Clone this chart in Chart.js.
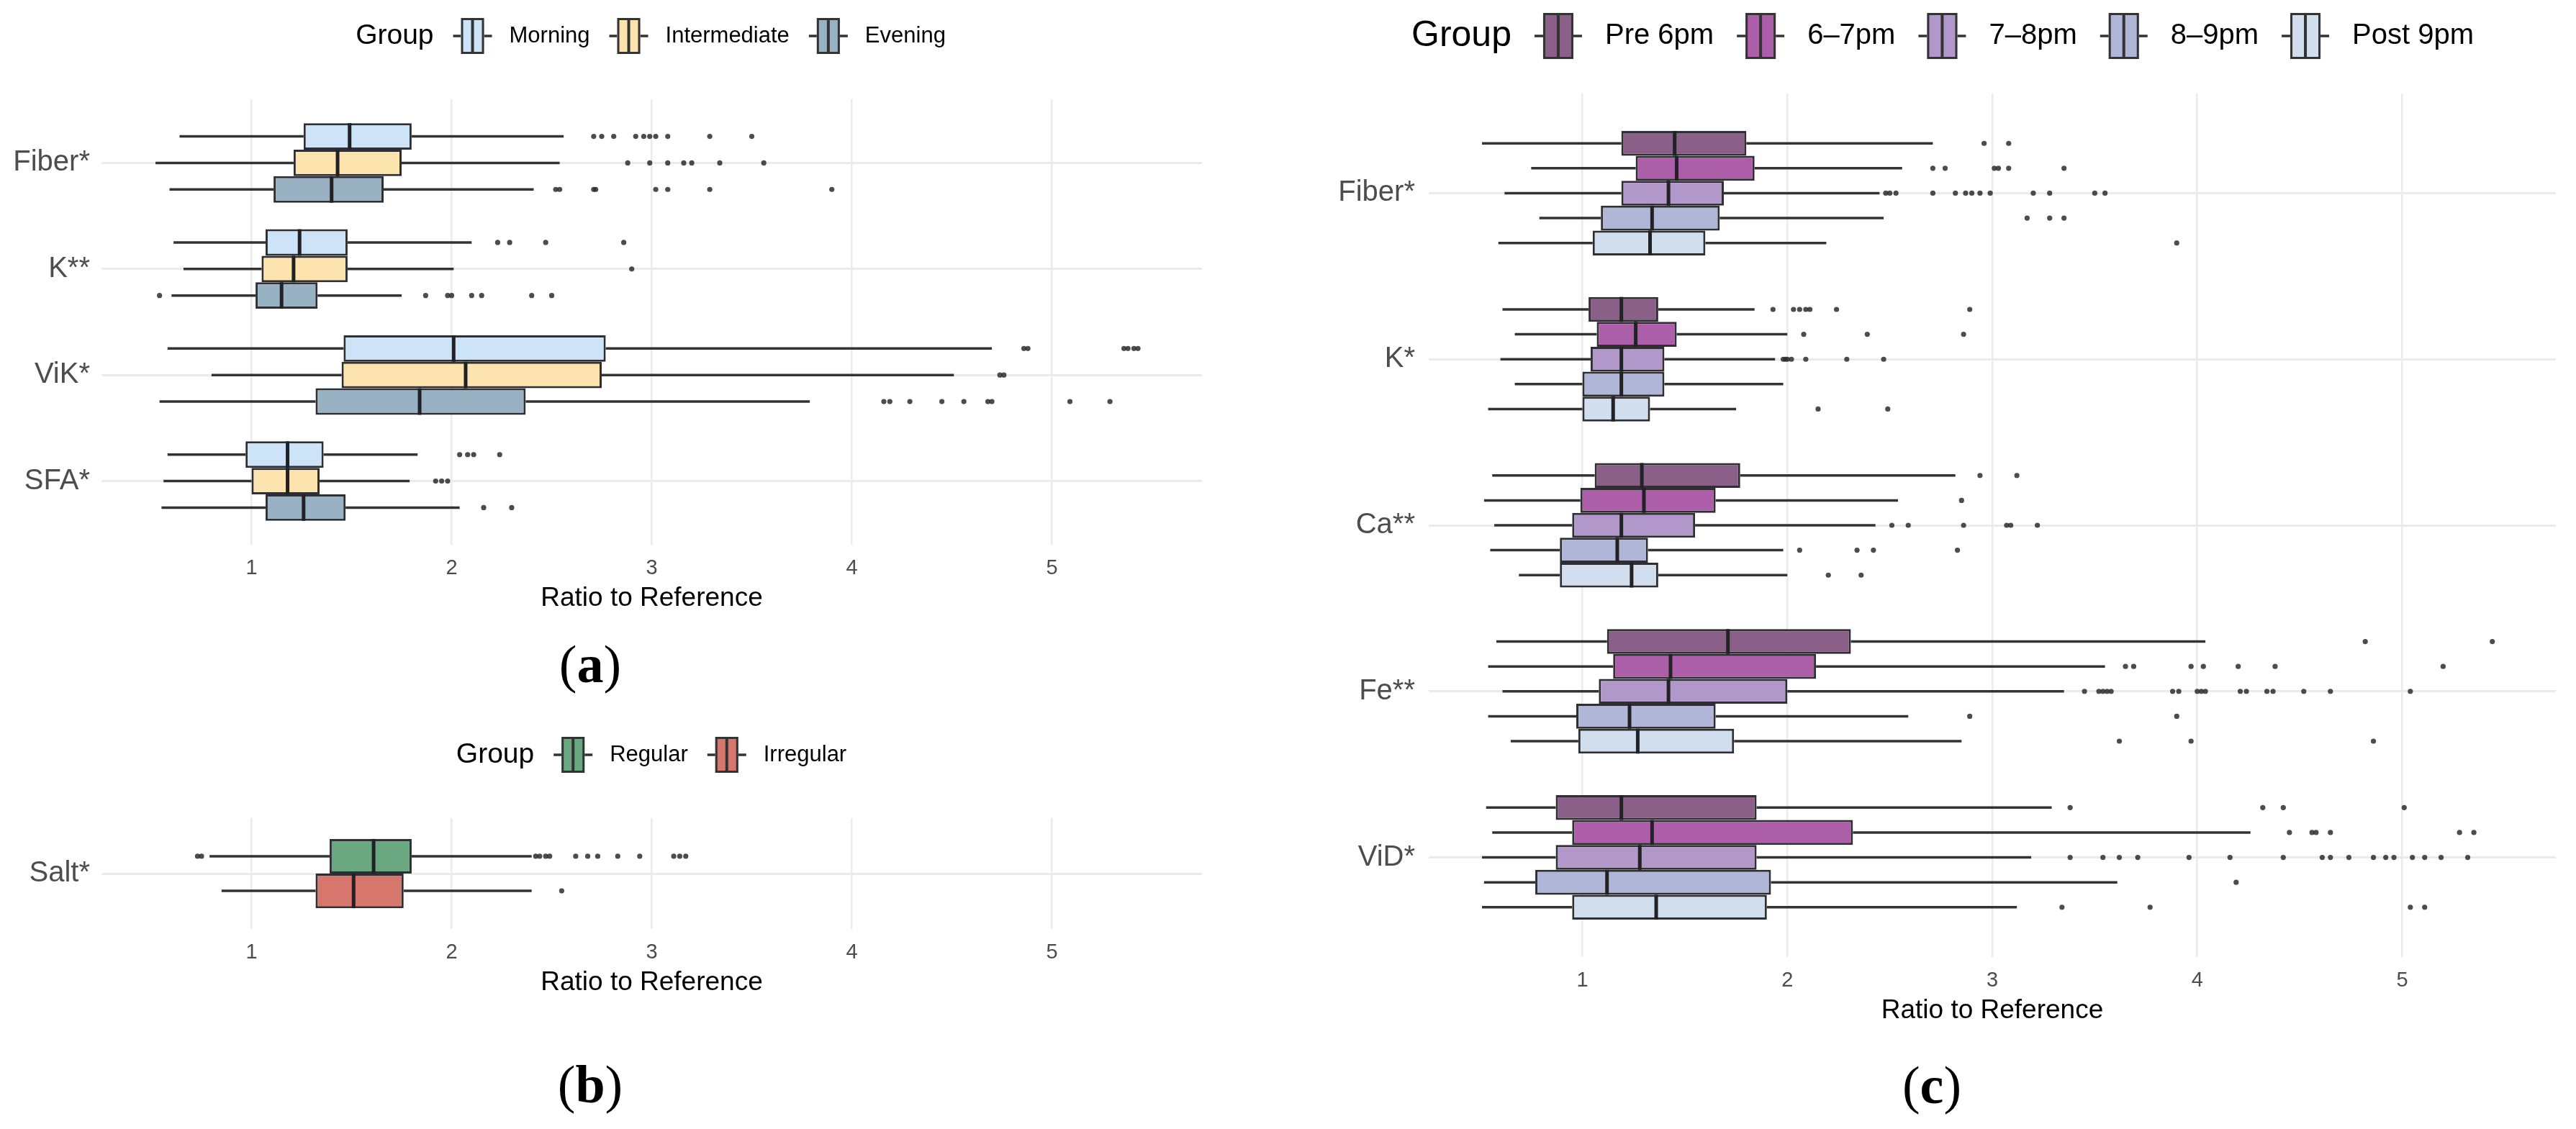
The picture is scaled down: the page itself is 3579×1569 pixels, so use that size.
<!DOCTYPE html>
<html><head><meta charset="utf-8">
<script src="https://cdn.jsdelivr.net/npm/chart.js@4.4.1/dist/chart.umd.min.js"></script>
<style>
html,body{margin:0;padding:0;background:#fff;width:3579px;height:1569px;overflow:hidden;position:relative}
canvas{position:absolute}
.lab{position:absolute;font-family:"Liberation Serif","Times New Roman",serif;font-size:74px;color:#000;transform:translate(-50%,-50%);white-space:nowrap;line-height:1}
</style></head><body>
<canvas id="ca" width="1700" height="960" style="left:0;top:0;width:1700px;height:960px"></canvas>
<canvas id="cb" width="1700" height="500" style="left:0;top:960px;width:1700px;height:500px"></canvas>
<canvas id="cc" width="1879" height="1460" style="left:1700px;top:0;width:1879px;height:1460px"></canvas>
<div class="lab" style="left:820px;top:923px">(<b>a</b>)</div>
<div class="lab" style="left:820px;top:1507px">(<b>b</b>)</div>
<div class="lab" style="left:2684px;top:1508px">(<b>c</b>)</div>
<script>
// ---------- shared axis ----------
const xTicks = [1, 2, 3, 4, 5];
const xMin = 0.25, xMax = 5.75;
const axisTitle = 'Ratio to Reference';
const legendTitle = 'Group';

// ---------- panel (a) ----------
const catsA = ['Fiber*', 'K**', 'ViK*', 'SFA*'];
const groupsA = ['Morning', 'Intermediate', 'Evening'];
const colorsA = ['#cde3f8', '#fde4ae', '#98b2c3'];
// [lower whisker, Q1, median, Q3, upper whisker] per category
const aMorning = [[0.64,1.26,1.49,1.80,2.56],[0.61,1.07,1.24,1.48,2.10],[0.58,1.46,2.01,2.77,4.70],[0.58,0.97,1.18,1.36,1.83]];
const aInter   = [[0.52,1.21,1.43,1.75,2.54],[0.66,1.05,1.21,1.48,2.01],[0.80,1.45,2.07,2.75,4.51],[0.56,1.00,1.18,1.34,1.79]];
const aEvening = [[0.59,1.11,1.40,1.66,2.41],[0.60,1.02,1.15,1.33,1.75],[0.54,1.32,1.84,2.37,3.79],[0.55,1.07,1.26,1.47,2.04]];
const aMorningOut = [[2.71,2.75,2.81,2.92,2.96,2.99,3.02,3.08,3.29,3.50],[2.23,2.29,2.47,2.86],[4.86,4.88,5.36,5.38,5.41,5.43],[2.04,2.08,2.11,2.24]];
const aInterOut   = [[2.88,2.99,3.08,3.16,3.20,3.34,3.56],[2.90],[4.74,4.76],[1.92,1.95,1.98]];
const aEveningOut = [[2.52,2.54,2.71,2.72,3.02,3.08,3.29,3.90],[0.54,1.87,1.98,2.00,2.10,2.15,2.40,2.50],[4.16,4.19,4.29,4.45,4.56,4.68,4.70,5.09,5.29],[2.16,2.30]];

// ---------- panel (b) ----------
const catsB = ['Salt*'];
const groupsB = ['Regular', 'Irregular'];
const colorsB = ['#69a880', '#d6766c'];
const bRegular   = [[0.79,1.39,1.61,1.80,2.40]];
const bIrregular = [[0.85,1.32,1.51,1.76,2.40]];
const bRegularOut   = [[0.73,0.75,2.42,2.44,2.47,2.49,2.62,2.68,2.73,2.83,2.94,3.11,3.14,3.17]];
const bIrregularOut = [[2.55]];

// ---------- panel (c) ----------
const catsC = ['Fiber*', 'K*', 'Ca**', 'Fe**', 'ViD*'];
const groupsC = ['Pre 6pm', '6\u20137pm', '7\u20138pm', '8\u20139pm', 'Post 9pm'];
const colorsC = ['#8a5f88', '#ad5ea8', '#b297cb', '#b0b6d8', '#d0deee'];
const cPre6 = [[0.51,1.19,1.45,1.80,2.71],[0.61,1.03,1.19,1.37,1.84],[0.56,1.06,1.29,1.77,2.82],[0.58,1.12,1.71,2.31,4.04],[0.53,0.87,1.19,1.85,3.29]];
const c6to7 = [[0.75,1.26,1.46,1.84,2.56],[0.67,1.07,1.26,1.46,2.00],[0.52,0.99,1.30,1.65,2.54],[0.54,1.15,1.43,2.14,3.55],[0.56,0.95,1.34,2.32,4.26]];
const c7to8 = [[0.62,1.19,1.42,1.69,2.45],[0.60,1.04,1.19,1.40,1.94],[0.57,0.95,1.19,1.55,2.43],[0.61,1.08,1.42,2.00,3.35],[0.51,0.87,1.28,1.85,3.19]];
const c8to9 = [[0.79,1.09,1.34,1.67,2.47],[0.67,1.00,1.19,1.40,1.98],[0.55,0.89,1.17,1.32,1.98],[0.54,0.97,1.23,1.65,2.59],[0.52,0.77,1.12,1.92,3.61]];
const cPost9 = [[0.59,1.05,1.33,1.60,2.19],[0.54,1.00,1.15,1.33,1.75],[0.69,0.89,1.24,1.37,2.00],[0.65,0.98,1.27,1.74,2.85],[0.51,0.95,1.36,1.90,3.12]];
const cPre6Out = [[2.96,3.08],[1.93,2.03,2.06,2.09,2.11,2.24,2.89],[2.94,3.12],[4.82,5.44],[3.38,4.32,4.42,5.01]];
const c6to7Out = [[2.71,2.77,3.01,3.03,3.08,3.35],[2.08,2.39,2.86],[2.85],[3.65,3.69,3.97,4.03,4.20,4.38,5.20],[4.45,4.56,4.58,4.65,5.28,5.35]];
const c7to8Out = [[2.48,2.50,2.53,2.71,2.82,2.87,2.90,2.94,2.99,3.20,3.28,3.50,3.55],[1.98,1.99,2.00,2.02,2.09,2.29,2.47],[2.51,2.59,2.86,3.07,3.09,3.22],[3.45,3.52,3.54,3.56,3.58,3.88,3.91,4.00,4.02,4.04,4.21,4.24,4.34,4.37,4.52,4.65,5.04],[3.38,3.54,3.62,3.71,3.96,4.16,4.42,4.61,4.65,4.74,4.86,4.92,4.96,5.05,5.11,5.19,5.32]];
const c8to9Out = [[3.17,3.28,3.35],[],[2.06,2.34,2.42,2.83],[2.89,3.90],[4.19]];
const cPost9Out = [[3.90],[2.15,2.49],[2.20,2.36],[3.62,3.97,4.86],[3.34,3.77,5.04,5.11]];

// ---------- drawing ----------
const FONT = '"Liberation Sans", Arial, Helvetica, sans-serif';
Chart.defaults.font.family = FONT;

function makePanel(canvasId, s) {
  const n = s.cats.length;
  const catPct = n === 1 ? 0.75 / 1.2 : 0.75;
  const datasets = s.groups.map((g, gi) => ({
    label: g,
    data: s.cats.map((c, i) => ({ y: i + 1, x: [s.stats[gi][i][1], s.stats[gi][i][3]] })),
    backgroundColor: s.colors[gi],
    borderColor: '#2e2e33',
    borderWidth: 3,
    borderSkipped: false,
    categoryPercentage: catPct,
    barPercentage: 1
  }));

  const plugin = {
    id: 'boxExtras_' + canvasId,
    beforeDatasetsDraw(chart) {
      const ctx = chart.ctx, xs = chart.scales.x;
      ctx.save();
      ctx.strokeStyle = '#333333';
      ctx.lineWidth = 3.5;
      s.stats.forEach((st, gi) => {
        const meta = chart.getDatasetMeta(gi);
        st.forEach((v, i) => {
          const el = meta.data[i];
          if (!el) return;
          ctx.beginPath();
          ctx.moveTo(xs.getPixelForValue(v[0]), el.y);
          ctx.lineTo(xs.getPixelForValue(v[1]), el.y);
          ctx.moveTo(xs.getPixelForValue(v[3]), el.y);
          ctx.lineTo(xs.getPixelForValue(v[4]), el.y);
          ctx.stroke();
        });
      });
      ctx.restore();
    },
    afterDatasetsDraw(chart) {
      const ctx = chart.ctx, xs = chart.scales.x;
      ctx.save();
      s.stats.forEach((st, gi) => {
        const meta = chart.getDatasetMeta(gi);
        st.forEach((v, i) => {
          const el = meta.data[i];
          if (!el) return;
          const h = el.height;
          const mx = xs.getPixelForValue(v[2]);
          ctx.strokeStyle = '#222226';
          ctx.lineWidth = 5;
          ctx.beginPath();
          ctx.moveTo(mx, el.y - h / 2);
          ctx.lineTo(mx, el.y + h / 2);
          ctx.stroke();
          ctx.fillStyle = 'rgba(45,45,45,0.85)';
          s.outs[gi][i].forEach(o => {
            ctx.beginPath();
            ctx.arc(xs.getPixelForValue(o), el.y, 3.6, 0, Math.PI * 2);
            ctx.fill();
          });
        });
      });
      ctx.restore();
    },
    afterDraw(chart) {
      const ctx = chart.ctx, L = s.legend;
      ctx.save();
      ctx.textBaseline = 'middle';
      ctx.textAlign = 'left';
      ctx.font = L.titleSize + 'px ' + FONT;
      const tw = ctx.measureText(legendTitle).width;
      ctx.font = L.labelSize + 'px ' + FONT;
      const lws = s.groups.map(g => ctx.measureText(g).width);
      const keyTot = L.keyW + 2 * L.ext;
      let total = tw + L.gapTitle;
      lws.forEach((w, i) => { total += keyTot + L.gapKey + w + (i < lws.length - 1 ? L.gapItem : 0); });
      let x = L.cx - total / 2;
      const y = L.y;
      ctx.fillStyle = '#000';
      ctx.font = L.titleSize + 'px ' + FONT;
      ctx.fillText(legendTitle, x, y);
      x += tw + L.gapTitle;
      s.groups.forEach((g, gi) => {
        ctx.strokeStyle = '#333333';
        ctx.lineWidth = 3.5;
        ctx.beginPath();
        ctx.moveTo(x, y); ctx.lineTo(x + L.ext, y);
        ctx.moveTo(x + L.ext + L.keyW, y); ctx.lineTo(x + keyTot, y);
        ctx.stroke();
        ctx.fillStyle = s.colors[gi];
        ctx.fillRect(x + L.ext, y - L.keyH / 2, L.keyW, L.keyH);
        ctx.lineWidth = 3;
        ctx.strokeRect(x + L.ext + 1.5, y - L.keyH / 2 + 1.5, L.keyW - 3, L.keyH - 3);
        ctx.lineWidth = 4;
        ctx.beginPath();
        ctx.moveTo(x + L.ext + L.keyW / 2, y - L.keyH / 2);
        ctx.lineTo(x + L.ext + L.keyW / 2, y + L.keyH / 2);
        ctx.stroke();
        x += keyTot + L.gapKey;
        ctx.fillStyle = '#000';
        ctx.font = L.labelSize + 'px ' + FONT;
        ctx.fillText(g, x, y);
        x += lws[gi] + L.gapItem;
      });
      ctx.restore();
    }
  };

  return new Chart(document.getElementById(canvasId), {
    type: 'bar',
    data: { datasets },
    options: {
      indexAxis: 'y',
      responsive: false,
      animation: false,
      events: [],
      layout: { padding: s.pad },
      plugins: { legend: { display: false }, tooltip: { enabled: false } },
      scales: {
        x: {
          type: 'linear', min: xMin, max: xMax, offset: false,
          afterBuildTicks: ax => { ax.ticks = xTicks.map(v => ({ value: v })); },
          afterFit: ax => { ax.height = 100; },
          grid: { color: '#ebebeb', lineWidth: 2.5, drawTicks: false, offset: false },
          border: { display: false },
          ticks: { color: '#4d4d4d', font: { size: 29 }, padding: 16, autoSkip: false, maxRotation: 0 },
          title: { display: true, text: axisTitle, color: '#000', font: { size: 37 }, padding: { top: 0, bottom: 3 } }
        },
        y: {
          type: 'linear', min: 0.4, max: n + 0.6, reverse: true, offset: false,
          afterBuildTicks: ax => { ax.ticks = s.cats.map((c, i) => ({ value: i + 1 })); },
          afterFit: ax => { ax.width = s.yW; },
          grid: { color: '#ebebeb', lineWidth: 3, drawTicks: false, offset: false },
          border: { display: false },
          ticks: {
            color: '#4d4d4d', font: { size: 40 }, padding: s.yPad, autoSkip: false,
            callback: v => s.cats[Math.round(v) - 1]
          }
        }
      }
    },
    plugins: [plugin]
  });
}

makePanel('ca', {
  cats: catsA, groups: groupsA, colors: colorsA,
  stats: [aMorning, aInter, aEvening], outs: [aMorningOut, aInterOut, aEveningOut],
  pad: { top: 138, left: 0, right: 30, bottom: 103 }, yW: 141, yPad: 16,
  legend: { y: 50, cx: 904, titleSize: 39, labelSize: 31, keyW: 32, keyH: 50, ext: 11, gapTitle: 27, gapKey: 24, gapItem: 27 }
});
makePanel('cb', {
  cats: catsB, groups: groupsB, colors: colorsB,
  stats: [bRegular, bIrregular], outs: [bRegularOut, bIrregularOut],
  pad: { top: 177, left: 0, right: 30, bottom: 69 }, yW: 141, yPad: 16,
  legend: { y: 89, cx: 905, titleSize: 39, labelSize: 31, keyW: 32, keyH: 50, ext: 11, gapTitle: 27, gapKey: 24, gapItem: 27 }
});
makePanel('cc', {
  cats: catsC, groups: groupsC, colors: colorsC,
  stats: [cPre6, c6to7, c7to8, c8to9, cPost9], outs: [cPre6Out, c6to7Out, c7to8Out, c8to9Out, cPost9Out],
  pad: { top: 130, left: 0, right: 28, bottom: 30 }, yW: 285, yPad: 19,
  legend: { y: 50, cx: 2699 - 1700, titleSize: 50, labelSize: 40, keyW: 42, keyH: 64, ext: 12, gapTitle: 32, gapKey: 32, gapItem: 32 }
});
</script>
</body></html>
